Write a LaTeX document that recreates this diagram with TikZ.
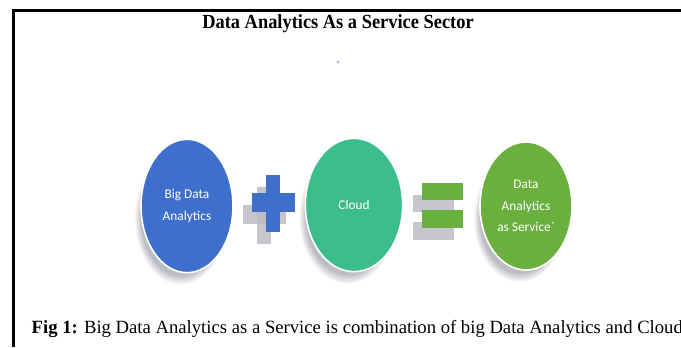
\documentclass[tikz,border=0pt]{standalone}
\usepackage{fontspec}
\setmainfont{Liberation Serif}
\newfontfamily\bubblefont{Carlito}
\newfontfamily\narrowserif[FakeStretch=0.92]{Liberation Serif}
\usepackage{tikz}
\usetikzlibrary{shapes.geometric, shadows, fadings}
\definecolor{bdablue}{RGB}{63,111,204}
\definecolor{cloudgreen}{RGB}{60,190,140}
\definecolor{daasgreen}{RGB}{106,176,62}
\definecolor{shadowgray}{RGB}{188,188,196}

\begin{document}
\begin{tikzpicture}[
    x=0.75pt, y=-0.75pt,
    bubble/.style={ellipse, draw=white, line width=1.2pt, inner sep=0pt,
                   minimum width=69pt, minimum height=100pt, align=center,
                   text=white, font=\bubblefont\fontsize{10}{16}\selectfont,
                   circular drop shadow={shadow xshift=-5pt, shadow yshift=-9pt,
                                         shadow scale=1, fill=shadowgray}},
    signshadow/.style={fill=shadowgray, opacity=0.85}
]
    \clip (0,0) rectangle (681,347);
    \fill[white] (0,0) rectangle (681,347);

    % frame on the left and top
    \draw[line width=2.25pt] (13,347) -- (13,10.5) -- (681,10.5);

    \node[font=\narrowserif\bfseries\fontsize{15}{18}\selectfont] (title) at (338,24)
        {Data Analytics As a Service Sector};
    \fill[bdablue!60] (338,62) circle (1.3);

    % the three bubbles
    \node[bubble, fill=bdablue] (bda) at (187,206) {Big Data\\Analytics};
    \node[bubble, fill=cloudgreen, minimum width=73pt] (cloud) at (354,205) {Cloud};
    \node[bubble, fill=daasgreen, minimum height=96pt] (daas) at (526,206)
        {Data\\Analytics\\as Service`};

    % plus sign
    \fill[signshadow] (257,187) rectangle (271,244);
    \fill[signshadow] (243,205) rectangle (286,224);
    \fill[bdablue] (266,175) rectangle (280,232);
    \fill[bdablue] (252,193) rectangle (295,212);

    % equals sign
    \fill[signshadow] (413,195) rectangle (454,212);
    \fill[signshadow] (413,222) rectangle (454,240);
    \fill[daasgreen] (422,183) rectangle (463,200);
    \fill[daasgreen] (422,210) rectangle (463,228);

    \node[anchor=base west, font=\fontsize{14}{17}\selectfont] (caption) at (27,333)
        {\textbf{Fig 1:} Big Data Analytics as a Service is combination of big Data Analytics and Cloud};
\end{tikzpicture}
\end{document}
